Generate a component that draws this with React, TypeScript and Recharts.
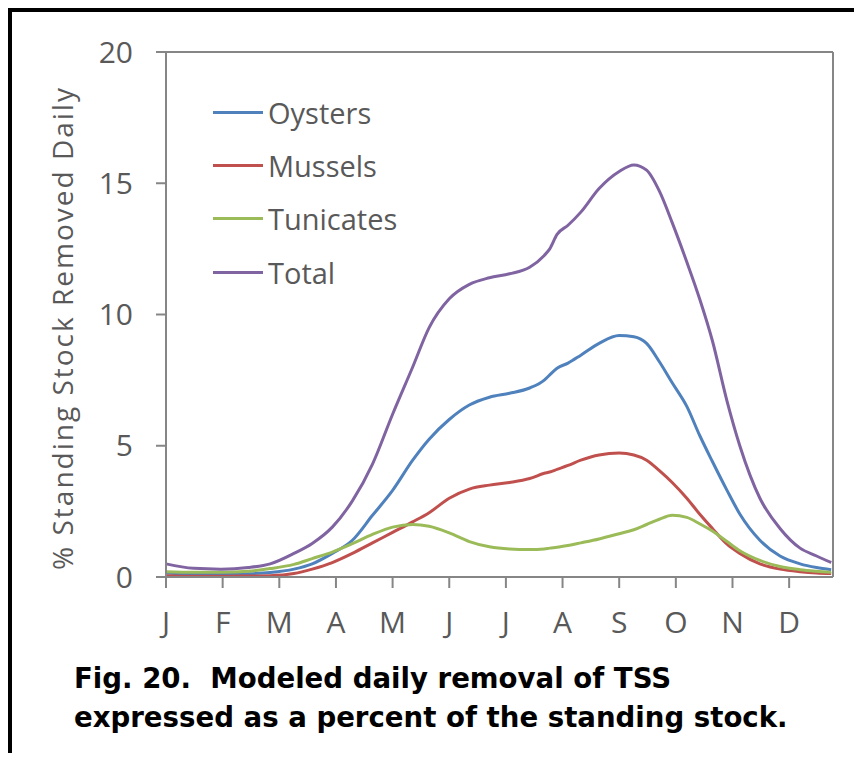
import React from 'react';
import { LineChart, Line, XAxis, YAxis, ReferenceLine, Legend } from 'recharts';

const days = [0, 15, 30, 45, 57, 70, 80, 91, 102, 113, 124, 135, 144, 155, 166, 177, 188, 199, 207, 210, 214, 220, 227, 237, 248, 256, 263, 270, 277, 285, 292, 299, 307, 314, 325, 336, 347, 356, 364];
const oysters = [0.15, 0.1, 0.1, 0.12, 0.17, 0.3, 0.5, 0.9, 1.4, 2.35, 3.3, 4.45, 5.25, 6.0, 6.55, 6.85, 7.0, 7.2, 7.5, 7.7, 7.95, 8.15, 8.45, 8.9, 9.2, 9.15, 8.9, 8.2, 7.4, 6.5, 5.4, 4.4, 3.3, 2.4, 1.4, 0.8, 0.5, 0.36, 0.28];
const mussels = [0.05, 0.03, 0.03, 0.04, 0.05, 0.13, 0.3, 0.55, 0.9, 1.3, 1.7, 2.1, 2.45, 3.0, 3.35, 3.5, 3.6, 3.75, 3.95, 4.0, 4.1, 4.25, 4.45, 4.65, 4.72, 4.65, 4.45, 4.05, 3.6, 3.0, 2.4, 1.85, 1.25, 0.9, 0.5, 0.3, 0.2, 0.15, 0.13];
const tunicates = [0.2, 0.18, 0.18, 0.22, 0.32, 0.48, 0.7, 0.95, 1.27, 1.62, 1.9, 2.0, 1.93, 1.68, 1.35, 1.15, 1.07, 1.05, 1.07, 1.1, 1.13, 1.2, 1.3, 1.45, 1.65, 1.8, 2.0, 2.2, 2.35, 2.27, 2.03, 1.75, 1.35, 1.0, 0.63, 0.4, 0.28, 0.22, 0.18];
const total = [0.5, 0.33, 0.3, 0.36, 0.5, 0.9, 1.28, 1.9, 2.9, 4.3, 6.2, 8.0, 9.5, 10.6, 11.15, 11.4, 11.55, 11.8, 12.25, 12.5, 13.05, 13.4, 13.9, 14.8, 15.45, 15.7, 15.5, 14.7, 13.5, 12.0, 10.6, 9.0, 6.7, 5.0, 3.0, 1.85, 1.1, 0.8, 0.55];

const monthTicks = [0, 31, 62, 93, 124, 155, 186, 217, 248, 279, 310, 341];
const monthLabels = ['J', 'F', 'M', 'A', 'M', 'J', 'J', 'A', 'S', 'O', 'N', 'D'];
const yTicks = [0, 5, 10, 15, 20];

const series = [
  { key: 'oysters', name: 'Oysters', color: '#4F81BD' },
  { key: 'mussels', name: 'Mussels', color: '#C0504D' },
  { key: 'tunicates', name: 'Tunicates', color: '#9BBB59' },
  { key: 'total', name: 'Total', color: '#8064A2' },
];

const yTitle = '% Standing Stock Removed Daily';
const captionLines = ['Fig. 20.  Modeled daily removal of TSS', 'expressed as a percent of the standing stock.'];

const data = days.map((d, i) => ({
  day: d,
  oysters: oysters[i],
  mussels: mussels[i],
  tunicates: tunicates[i],
  total: total[i],
}));

const FONT = '"Open Sans", "Noto Sans", sans-serif';
const AXIS = '#868686';
const TEXT = '#595959';

const YLabel = () => (
  <text
    transform="translate(73,328) rotate(-90)"
    x={0}
    y={0}
    textAnchor="middle"
    fontFamily={FONT}
    fontSize={28}
    letterSpacing={2}
    fill={TEXT}
  >
    {yTitle}
  </text>
);

const LegendContent = () => (
  <div style={{ fontFamily: FONT }}>
    {series.map((s) => (
      <div key={s.key} style={{ display: 'flex', alignItems: 'center', height: 53.3 }}>
        <div style={{ width: 50, height: 3, background: s.color }} />
        <span style={{ marginLeft: 5, fontSize: 29, color: TEXT, lineHeight: '53px' }}>{s.name}</span>
      </div>
    ))}
  </div>
);

export default function App() {
  return (
    <div style={{ position: 'relative', width: 862, height: 761, margin: -8, background: '#fff', overflow: 'hidden' }}>
      <div style={{ position: 'absolute', left: 7, top: 8, width: 855, height: 4, background: '#000' }} />
      <div style={{ position: 'absolute', left: 7, top: 8, width: 5, height: 753, background: '#000' }} />
      <div style={{ position: 'absolute', left: 0, top: 0 }}>
        <LineChart width={862} height={660} data={data} margin={{ top: 52, right: 29, left: 106, bottom: 23 }}>
          <XAxis
            type="number"
            dataKey="day"
            domain={[0, 365]}
            ticks={monthTicks}
            tickFormatter={(v: number) => monthLabels[monthTicks.indexOf(v)] ?? ''}
            height={60}
            tickSize={11}
            tickMargin={24}
            stroke={AXIS}
            strokeWidth={2}
            tick={{ fill: TEXT, fontSize: 30, fontFamily: FONT }}
            interval={0}
          />
          <YAxis
            type="number"
            domain={[0, 20]}
            ticks={yTicks}
            width={60}
            tickSize={10}
            tickMargin={23}
            stroke={AXIS}
            strokeWidth={2}
            tick={{ fill: TEXT, fontSize: 30, fontFamily: FONT }}
            interval={0}
            label={<YLabel />}
          />
          <ReferenceLine y={20} stroke={AXIS} strokeWidth={2} />
          <ReferenceLine x={365} stroke={AXIS} strokeWidth={2} />
          {series.map((s) => (
            <Line
              key={s.key}
              type="monotone"
              dataKey={s.key}
              name={s.name}
              stroke={s.color}
              strokeWidth={3}
              dot={false}
              activeDot={false}
              isAnimationActive={false}
            />
          ))}
          <Legend
            layout="vertical"
            align="center"
            verticalAlign="middle"
            wrapperStyle={{ left: 213, top: 85.5, width: 'auto', height: 'auto' }}
            content={<LegendContent />}
          />
        </LineChart>
      </div>
      <div
        style={{
          position: 'absolute',
          left: 74,
          top: 659,
          fontFamily: '"DejaVu Sans", sans-serif',
          fontWeight: 'bold',
          fontSize: 27.6,
          lineHeight: '39px',
          color: '#000',
          whiteSpace: 'pre',
        }}
      >
        {captionLines.map((l, i) => (
          <div key={i}>{l}</div>
        ))}
      </div>
    </div>
  );
}
